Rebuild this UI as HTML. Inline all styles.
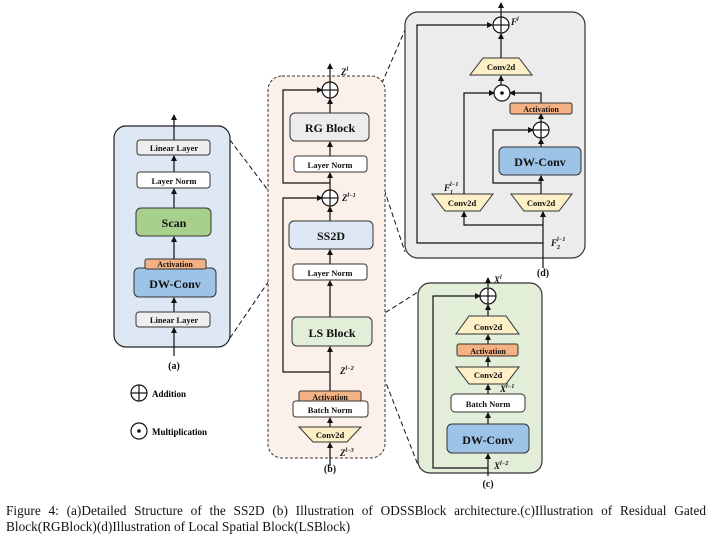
<!DOCTYPE html>
<html><head><meta charset="utf-8"><style>
body{margin:0;background:#fff;width:710px;height:537px;overflow:hidden;position:relative}
svg{position:absolute;left:0;top:0}
.cap{position:absolute;left:6px;width:700px;font-family:"Liberation Serif",serif;font-size:13.3px;line-height:16px;top:503px;text-align:justify;text-align-last:left;color:#111}
</style></head><body>
<svg width="710" height="537" viewBox="0 0 710 537" font-family="Liberation Serif,serif" font-weight="bold">
<defs><marker id="a" markerWidth="6" markerHeight="6" refX="5" refY="3" orient="auto" markerUnits="userSpaceOnUse"><path d="M0,0L6,3L0,6z" fill="#111"/></marker></defs>
<g stroke="#111" stroke-width="1.2" fill="none">
<g stroke-dasharray="5,3" stroke-width="1">
<line x1="230" y1="140" x2="292" y2="222"/><line x1="230" y1="338" x2="290" y2="250"/>
<line x1="369" y1="113" x2="405" y2="30"/><line x1="369" y1="144" x2="405" y2="252"/>
<line x1="372" y1="321" x2="418" y2="292"/><line x1="372" y1="347" x2="418" y2="465"/>
</g>
</g>
<!-- panel a -->
<rect x="114" y="126" width="116" height="221" rx="12" fill="#dde8f4" stroke="#222" stroke-width="1.2"/>
<g stroke="#111" stroke-width="1.2" marker-end="url(#a)">
<line x1="174" y1="356" x2="174" y2="328"/><line x1="174" y1="312" x2="174" y2="298"/>
<line x1="174" y1="259" x2="174" y2="237"/><line x1="174" y1="208" x2="174" y2="189"/>
<line x1="174" y1="172" x2="174" y2="156"/><line x1="174" y1="140" x2="174" y2="115"/>
</g>
<g stroke="#333" stroke-width="1">
<rect x="137" y="140" width="73" height="15" rx="3" fill="#eeeeee"/>
<rect x="137" y="172" width="73" height="16" rx="3" fill="#fff"/>
<rect x="136" y="208" width="75" height="28" rx="5" fill="#a8d08d"/>
<rect x="134" y="268" width="82" height="29" rx="5" fill="#9dc3e6"/>
<rect x="145" y="259" width="61" height="10" rx="2" fill="#f4b183"/>
<rect x="136" y="312" width="74" height="15" rx="3" fill="#eeeeee"/>
</g>
<g text-anchor="middle" fill="#111">
<text x="174" y="151" font-size="8.5">Linear Layer</text>
<text x="174" y="184" font-size="8.5">Layer Norm</text>
<text x="174" y="227" font-size="12">Scan</text>
<text x="175" y="267" font-size="8">Activation</text>
<text x="175" y="288" font-size="12">DW-Conv</text>
<text x="174" y="323" font-size="8.5">Linear Layer</text>
<text x="174" y="369" font-size="10">(a)</text>
</g>
<g stroke="#111" stroke-width="1.2" fill="#fff">
<circle cx="139" cy="393" r="8"/><line x1="131" y1="393" x2="147" y2="393"/><line x1="139" y1="385" x2="139" y2="401"/>
<circle cx="139" cy="431" r="8"/>
</g><circle cx="139" cy="431" r="1.8" fill="#111"/>
<text x="152" y="397" font-size="9">Addition</text>
<text x="152" y="435" font-size="9">Multiplication</text>
<!-- panel b -->
<rect x="268" y="76" width="117" height="382" rx="14" fill="#fcf1ea" stroke="#333" stroke-dasharray="3,2" stroke-width="1"/>
<g stroke="#111" stroke-width="1.2" fill="none">
<polyline points="330,183 283,183 283,90 322,90" marker-end="url(#a)"/>
<polyline points="330,372 283,372 283,198 322,198" marker-end="url(#a)"/>
</g>
<g stroke="#111" stroke-width="1.2" marker-end="url(#a)">
<line x1="330" y1="466" x2="330" y2="443"/><line x1="330" y1="427" x2="330" y2="418"/>
<line x1="330" y1="391" x2="330" y2="347"/><line x1="330" y1="317" x2="330" y2="281"/>
<line x1="330" y1="264" x2="330" y2="250"/><line x1="330" y1="221" x2="330" y2="207"/>
<line x1="330" y1="190" x2="330" y2="173"/><line x1="330" y1="156" x2="330" y2="142"/>
<line x1="330" y1="113" x2="330" y2="99"/><line x1="330" y1="82" x2="330" y2="64"/>
</g>
<g stroke="#333" stroke-width="1">
<rect x="290" y="113" width="79" height="28" rx="5" fill="#ececec"/>
<rect x="294" y="156" width="73" height="16" rx="3" fill="#fff"/>
<rect x="289" y="221" width="84" height="28" rx="5" fill="#dde8f4"/>
<rect x="293" y="264" width="74" height="16" rx="3" fill="#fff"/>
<rect x="292" y="317" width="80" height="29" rx="5" fill="#e2eed8"/>
<rect x="299" y="391" width="62" height="11" rx="2" fill="#f4b183"/>
<rect x="293" y="401" width="75" height="16" rx="3" fill="#fff"/>
<polygon points="299,427 361,427 347,442 313,442" fill="#fdefc6"/>
</g>
<g stroke="#111" stroke-width="1.2" fill="#fff">
<circle cx="330" cy="90" r="8"/><line x1="322" y1="90" x2="338" y2="90"/><line x1="330" y1="82" x2="330" y2="98"/>
<circle cx="330" cy="198" r="8"/><line x1="322" y1="198" x2="338" y2="198"/><line x1="330" y1="190" x2="330" y2="206"/>
</g>
<g text-anchor="middle" fill="#111">
<text x="330" y="132" font-size="12">RG Block</text>
<text x="330" y="168" font-size="8.5">Layer Norm</text>
<text x="331" y="240" font-size="12">SS2D</text>
<text x="330" y="276" font-size="8.5">Layer Norm</text>
<text x="332" y="337" font-size="12">LS Block</text>
<text x="330" y="400" font-size="8">Activation</text>
<text x="330" y="413" font-size="8.5">Batch Norm</text>
<text x="330" y="438" font-size="8.5">Conv2d</text>
<text x="330" y="472" font-size="10">(b)</text>
</g>
<g font-style="italic" font-size="9" fill="#111">
<text x="341" y="75">Z<tspan font-size="6" dy="-4">l</tspan></text>
<text x="342" y="201">Z<tspan font-size="6" dy="-4">l−1</tspan></text>
<text x="340" y="374">Z<tspan font-size="6" dy="-4">l−2</tspan></text>
<text x="340" y="456">Z<tspan font-size="6" dy="-4">l−3</tspan></text>
</g>
<!-- panel d -->
<rect x="405" y="12" width="180" height="246" rx="13" fill="#ececec" stroke="#333" stroke-width="1.2"/>
<g stroke="#111" stroke-width="1.2" fill="none">
<polyline points="543,243 417,243 417,25 492,25" marker-end="url(#a)"/>
<polyline points="543,225 464,225 464,212" marker-end="url(#a)"/>
<polyline points="464,194 464,93 494,93" marker-end="url(#a)"/>
<polyline points="541,103 541,93 510,93" marker-end="url(#a)"/>
<polyline points="541,183 493,183 493,130 533,130" marker-end="url(#a)"/>
</g>
<g stroke="#111" stroke-width="1.2" marker-end="url(#a)">
<line x1="543" y1="268" x2="543" y2="212"/><line x1="541" y1="194" x2="541" y2="176"/>
<line x1="541" y1="147" x2="541" y2="139"/><line x1="541" y1="122" x2="541" y2="114"/>
<line x1="501" y1="85" x2="501" y2="76"/><line x1="501" y1="58" x2="501" y2="34"/>
<line x1="501" y1="17" x2="501" y2="3"/>
</g>
<g stroke="#333" stroke-width="1">
<polygon points="483,58 519,58 532,75 470,75" fill="#fdefc6"/>
<rect x="510" y="103" width="62" height="11" rx="2" fill="#f4b183"/>
<rect x="499" y="147" width="82" height="28" rx="5" fill="#9dc3e6"/>
<polygon points="432,194 493,194 480,211 445,211" fill="#fdefc6"/>
<polygon points="511,194 572,194 559,211 524,211" fill="#fdefc6"/>
</g>
<g stroke="#111" stroke-width="1.2" fill="#fff">
<circle cx="501" cy="25" r="8"/><line x1="493" y1="25" x2="509" y2="25"/><line x1="501" y1="17" x2="501" y2="33"/>
<circle cx="502" cy="93" r="8"/>
<circle cx="541" cy="130" r="8"/><line x1="533" y1="130" x2="549" y2="130"/><line x1="541" y1="122" x2="541" y2="138"/>
</g><circle cx="502" cy="93" r="1.8" fill="#111"/>
<g text-anchor="middle" fill="#111">
<text x="501" y="70" font-size="8.5">Conv2d</text>
<text x="541" y="112" font-size="8">Activation</text>
<text x="540" y="166" font-size="12">DW-Conv</text>
<text x="462" y="206" font-size="8.5">Conv2d</text>
<text x="541" y="206" font-size="8.5">Conv2d</text>
<text x="543" y="276" font-size="10">(d)</text>
</g>
<g font-style="italic" font-size="9" fill="#111">
<text x="511" y="25">F<tspan font-size="6" dy="-4">l</tspan></text>
<text x="444" y="191">F<tspan font-size="6" dy="3">1</tspan><tspan font-size="6" dx="-3" dy="-8">l−1</tspan></text>
<text x="551" y="246">F<tspan font-size="6" dy="3">2</tspan><tspan font-size="6" dx="-3" dy="-8">l−1</tspan></text>
</g>
<!-- panel c -->
<rect x="418" y="283" width="124" height="190" rx="12" fill="#e2eed8" stroke="#333" stroke-width="1.2"/>
<g stroke="#111" stroke-width="1.2" fill="none">
<polyline points="488,468 433,468 433,296 480,296" marker-end="url(#a)"/>
</g>
<g stroke="#111" stroke-width="1.2" marker-end="url(#a)">
<line x1="488" y1="476" x2="488" y2="454"/><line x1="488" y1="424" x2="488" y2="413"/>
<line x1="488" y1="394" x2="488" y2="385"/><line x1="488" y1="367" x2="488" y2="357"/>
<line x1="488" y1="344" x2="488" y2="335"/><line x1="488" y1="316" x2="488" y2="305"/>
<line x1="488" y1="287" x2="488" y2="278"/>
</g>
<g stroke="#333" stroke-width="1">
<polygon points="469,316 506,316 519,334 456,334" fill="#fdefc6"/>
<rect x="457" y="344" width="61" height="12" rx="2" fill="#f4b183"/>
<polygon points="456,367 519,367 506,384 469,384" fill="#fdefc6"/>
<rect x="451" y="394" width="74" height="18" rx="4" fill="#fff"/>
<rect x="447" y="424" width="82" height="29" rx="5" fill="#9dc3e6"/>
</g>
<g stroke="#111" stroke-width="1.2" fill="#fff">
<circle cx="488" cy="296" r="8"/><line x1="480" y1="296" x2="496" y2="296"/><line x1="488" y1="288" x2="488" y2="304"/>
</g>
<g text-anchor="middle" fill="#111">
<text x="488" y="330" font-size="8.5">Conv2d</text>
<text x="488" y="354" font-size="8">Activation</text>
<text x="488" y="378" font-size="8.5">Conv2d</text>
<text x="488" y="407" font-size="8.5">Batch Norm</text>
<text x="488" y="444" font-size="12">DW-Conv</text>
<text x="488" y="487" font-size="10">(c)</text>
</g>
<g font-style="italic" font-size="9" fill="#111">
<text x="494" y="283">X<tspan font-size="6" dy="-4">l</tspan></text>
<text x="500" y="392">X<tspan font-size="6" dy="-4">l−1</tspan></text>
<text x="494" y="469">X<tspan font-size="6" dy="-4">l−2</tspan></text>
</g>
</svg>
<div class="cap">Figure 4: (a)Detailed Structure of the SS2D (b) Illustration of ODSSBlock architecture.(c)Illustration of Residual Gated Block(RGBlock)(d)Illustration of Local Spatial Block(LSBlock)</div>
</body></html>
